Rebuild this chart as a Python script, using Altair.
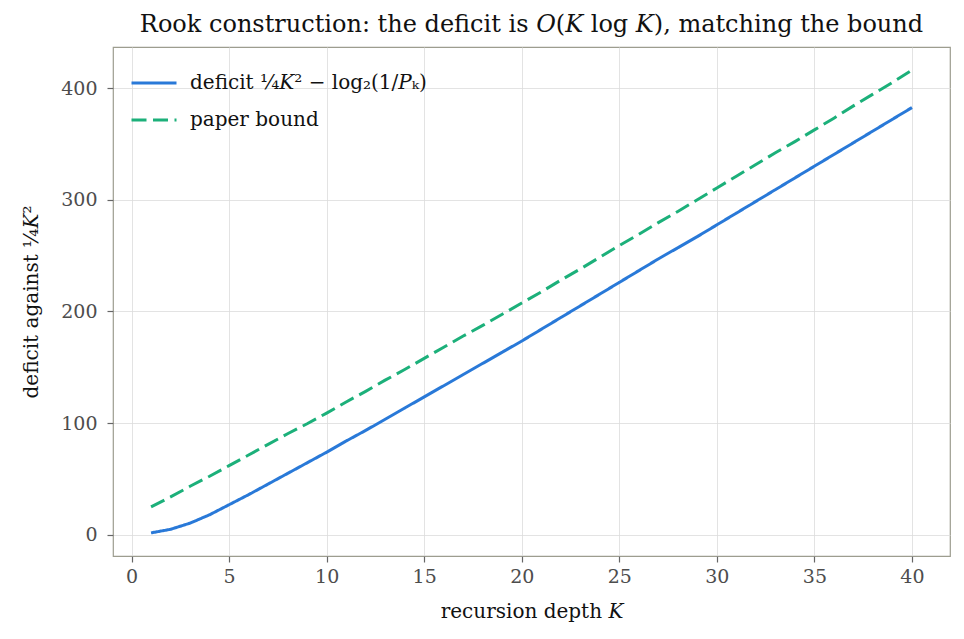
import altair as alt
import pandas as pd

K = list(range(1, 41))
deficit = [1.8, 5.0, 10.5, 18.0, 27.0, 36.0, 45.5, 55.0, 64.5, 74.0,
           84.0, 93.5, 103.5, 113.5, 123.5, 133.5, 143.5, 153.5, 163.5, 173.5,
           184.0, 194.5, 205.0, 215.5, 226.0, 236.5, 247.0, 257.0, 267.0, 277.5,
           288.0, 298.5, 309.0, 319.5, 330.0, 340.5, 351.0, 361.5, 372.0, 382.5]
bound = [25.0, 34.0, 43.5, 52.5, 62.0, 71.5, 81.0, 90.5, 99.5, 109.0,
         119.0, 128.5, 138.5, 148.0, 158.0, 168.0, 178.0, 187.5, 197.5, 207.5,
         217.5, 228.0, 238.0, 248.5, 259.0, 269.0, 279.5, 289.5, 300.0, 310.5,
         321.0, 331.5, 342.0, 352.0, 362.5, 373.0, 384.0, 394.5, 405.0, 416.0]
IK = "\U0001D43E"   # italic K
IP = "\U0001D443"   # italic P
IO = "\U0001D442"   # italic O
series_names = ["deficit \u00bc" + IK + "\u00b2 \u2212 log\u2082(1/" + IP + "\u2096)", "paper bound"]
series_colors = ["#2979d8", "#1cb07a"]
x_ticks = [0, 5, 10, 15, 20, 25, 30, 35, 40]
y_ticks = [0, 100, 200, 300, 400]

df = pd.DataFrame({
    "K": K * 2,
    "value": deficit + bound,
    "series": [series_names[0]] * len(K) + [series_names[1]] * len(K),
})

FONT = "DejaVu Serif"

chart = alt.Chart(df).mark_line(strokeWidth=3, clip=True).encode(
    x=alt.X("K:Q", scale=alt.Scale(domain=[-0.95, 41.95], nice=False, zero=False),
            axis=alt.Axis(values=x_ticks, title="recursion depth " + IK, format="d")),
    y=alt.Y("value:Q", scale=alt.Scale(domain=[-18.9, 436.7], nice=False, zero=False),
            axis=alt.Axis(values=y_ticks, title="deficit against \u00bc" + IK + "\u00b2", format="d")),
    color=alt.Color("series:N", scale=alt.Scale(domain=series_names, range=series_colors),
                    legend=alt.Legend(title=None)),
    strokeDash=alt.StrokeDash("series:N",
                              scale=alt.Scale(domain=series_names, range=[[1, 0], [15, 6.5]]),
                              legend=alt.Legend(title=None)),
).properties(
    width=837,
    height=509,
    title=alt.TitleParams("Rook construction: the deficit is " + IO + "(" + IK + " log " + IK + "), matching the bound",
                          font=FONT, fontSize=24, fontWeight="normal", color="#111111",
                          anchor="middle", offset=10),
    autosize=alt.AutoSizeParams(type="none"),
    padding={"left": 105, "top": 39, "right": 6, "bottom": 80},
).configure_view(
    stroke="#9d9d8f", strokeWidth=1.2
).configure_axis(
    grid=True, gridColor="#dcdcdc", gridWidth=0.8,
    domain=False,
    ticks=True, tickColor="#666666", tickSize=6, tickWidth=1.2,
    labelFont=FONT, labelFontSize=19, labelColor="#4d4d4d",
    titleFont=FONT, titleFontSize=20, titleColor="#111111", titleFontWeight="normal",
).configure_axisX(
    labelPadding=5, titlePadding=15
).configure_axisY(
    labelPadding=10, titlePadding=19
).configure_legend(
    orient="none", legendX=17, legendY=12,
    symbolType="stroke", symbolSize=2025, symbolStrokeWidth=3,
    labelFont=FONT, labelFontSize=20, labelColor="#111111", labelLimit=0,
    labelOffset=12, rowPadding=3,
)

chart.save("out.html", embed_options={"renderer": "svg", "actions": False})
